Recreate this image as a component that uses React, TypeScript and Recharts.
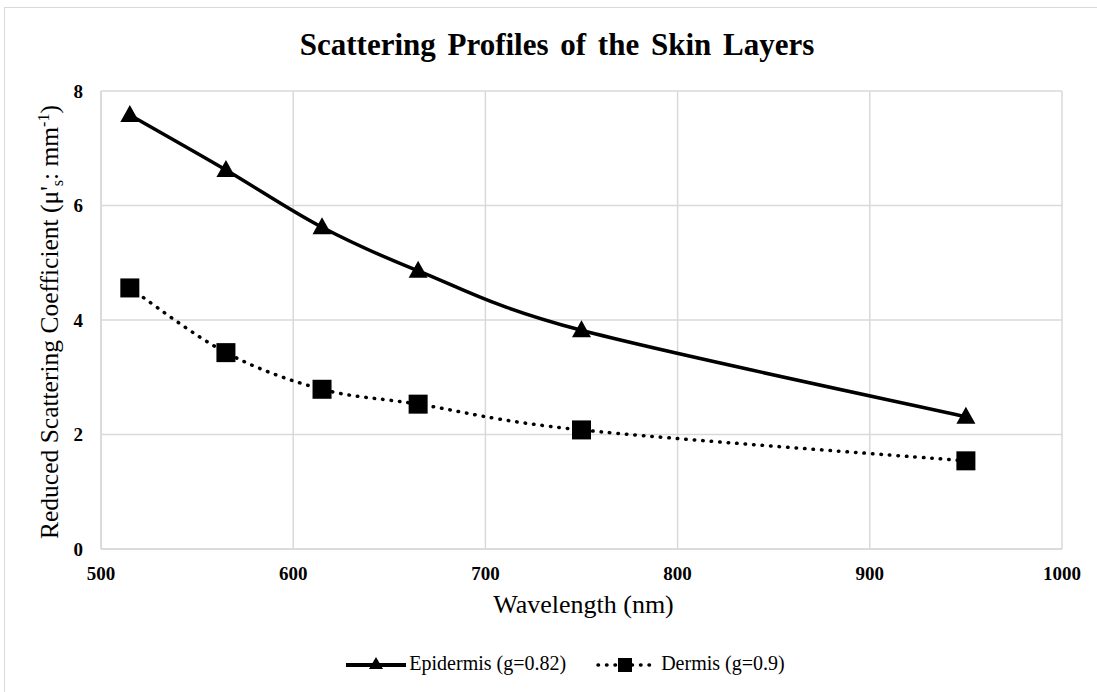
import { CartesianGrid, Label, Legend, Line, LineChart, XAxis, YAxis } from "recharts";

const wavelengths = [515, 565, 615, 665, 750, 950];
const epidermis = [7.58, 6.62, 5.62, 4.86, 3.82, 2.31];
const dermis = [4.56, 3.43, 2.79, 2.53, 2.08, 1.54];
const xTicks = [500, 600, 700, 800, 900, 1000];
const yTicks = [0, 2, 4, 6, 8];

const data = wavelengths.map((w, i) => ({
  wavelength: w,
  epidermis: epidermis[i],
  dermis: dermis[i],
}));

const FONT = '"Liberation Serif", "Times New Roman", serif';
const GRID = "#d9d9d9";

// Excel-style smoothed line: Catmull-Rom segments as cubic beziers
function excelSmooth(context: any) {
  let pts: [number, number][] = [];
  return {
    areaStart() {},
    areaEnd() {},
    lineStart() {
      pts = [];
    },
    point(x: number, y: number) {
      pts.push([+x, +y]);
    },
    lineEnd() {
      if (!pts.length) return;
      context.moveTo(pts[0][0], pts[0][1]);
      for (let i = 0; i < pts.length - 1; i++) {
        const p0 = pts[i - 1] || pts[i];
        const p1 = pts[i];
        const p2 = pts[i + 1];
        const p3 = pts[i + 2] || p2;
        context.bezierCurveTo(
          p1[0] + (p2[0] - p0[0]) / 6,
          p1[1] + (p2[1] - p0[1]) / 6,
          p2[0] - (p3[0] - p1[0]) / 6,
          p2[1] - (p3[1] - p1[1]) / 6,
          p2[0],
          p2[1]
        );
      }
    },
  };
}

function TriangleDot(props: any) {
  const { cx, cy, index } = props;
  if (cx == null || cy == null) return null;
  return (
    <polygon
      key={`t-${index}`}
      points={`${cx},${cy - 10} ${cx - 9.5},${cy + 7} ${cx + 9.5},${cy + 7}`}
      fill="#000"
    />
  );
}

function SquareDot(props: any) {
  const { cx, cy, index } = props;
  if (cx == null || cy == null) return null;
  return <rect key={`s-${index}`} x={cx - 9.5} y={cy - 9.5} width={19} height={19} fill="#000" />;
}

function LegendBox() {
  return (
    <div
      style={{
        display: "flex",
        justifyContent: "center",
        alignItems: "center",
        fontFamily: FONT,
        fontSize: 20,
        color: "#000",
        gap: 30,
        paddingLeft: 34,
      }}
    >
      <span style={{ display: "flex", alignItems: "center" }}>
        <svg width={60} height={16} style={{ marginRight: 3 }}>
          <line x1={0} y1={9} x2={60} y2={9} stroke="#000" strokeWidth={4} />
          <polygon points="30,1 23,13 37,13" fill="#000" />
        </svg>
        Epidermis (g=0.82)
      </span>
      <span style={{ display: "flex", alignItems: "center" }}>
        <svg width={58} height={16} style={{ marginRight: 7 }}>
          <line
            x1={2}
            y1={9}
            x2={57}
            y2={9}
            stroke="#000"
            strokeWidth={3.5}
            strokeLinecap="round"
            strokeDasharray="0.5 8"
          />
          <rect x={22} y={2} width={14} height={14} fill="#000" />
        </svg>
        Dermis (g=0.9)
      </span>
    </div>
  );
}

export default function App() {
  return (
    <div
      style={{
        position: "absolute",
        left: 0,
        top: 0,
        width: 1097,
        height: 692,
        background: "#fff",
        overflow: "hidden",
      }}
    >
      <div
        style={{
          position: "absolute",
          left: 4,
          top: 7,
          width: 1110,
          height: 700,
          border: `1px solid ${GRID}`,
        }}
      />
      <div
        style={{
          position: "absolute",
          left: 0,
          width: 1114,
          top: 27,
          textAlign: "center",
          fontFamily: FONT,
          fontWeight: "bold",
          fontSize: 31,
          wordSpacing: 4,
        }}
      >
        Scattering Profiles of the Skin Layers
      </div>
      <LineChart
        width={1097}
        height={692}
        data={data}
        margin={{ top: 91, right: 35, bottom: 113, left: 61 }}
        style={{ position: "absolute", left: 0, top: 0 }}
      >
        <CartesianGrid stroke={GRID} strokeWidth={1.5} />
        <XAxis
          type="number"
          dataKey="wavelength"
          domain={[500, 1000]}
          ticks={xTicks}
          height={30}
          tickLine={false}
          tickSize={0}
          tickMargin={18}
          axisLine={{ stroke: GRID, strokeWidth: 1.5 }}
          tick={{ fontSize: 19, fontWeight: "bold", fill: "#000", fontFamily: FONT }}
        >
          <Label
            content={({ viewBox }: any) => (
              <text
                x={viewBox.x + viewBox.width / 2 + 2}
                y={613}
                textAnchor="middle"
                fontFamily={FONT}
                fontSize={26}
                fill="#000"
              >
                Wavelength (nm)
              </text>
            )}
          />
        </XAxis>
        <YAxis
          type="number"
          domain={[0, 8]}
          ticks={yTicks}
          width={40}
          tickLine={false}
          tickSize={0}
          tickMargin={18}
          axisLine={{ stroke: GRID, strokeWidth: 1.5 }}
          tick={{ fontSize: 19, fontWeight: "bold", fill: "#000", fontFamily: FONT }}
        >
          <Label
            content={({ viewBox }: any) => {
              const cy = viewBox.y + viewBox.height / 2 + 2;
              const cx = 58;
              return (
                <text
                  x={cx}
                  y={cy}
                  transform={`rotate(-90, ${cx}, ${cy})`}
                  textAnchor="middle"
                  fontFamily={FONT}
                  fontSize={25.5}
                  fill="#000"
                >
                  Reduced Scattering Coefficient (μ&apos;
                  <tspan fontSize={16} dy={5}>
                    s
                  </tspan>
                  <tspan dy={-5}>: mm</tspan>
                  <tspan fontSize={16} dy={-9}>
                    -1
                  </tspan>
                  <tspan dy={9}>)</tspan>
                </text>
              );
            }}
          />
        </YAxis>
        <Legend
          layout="horizontal"
          verticalAlign="middle"
          align="center"
          wrapperStyle={{ top: 652, left: 0, width: 1097 }}
          content={() => <LegendBox />}
        />
        <Line
          type={excelSmooth as any}
          dataKey="epidermis"
          stroke="#000"
          strokeWidth={3.5}
          dot={TriangleDot}
          activeDot={false}
          isAnimationActive={false}
        />
        <Line
          type={excelSmooth as any}
          dataKey="dermis"
          stroke="#000"
          strokeWidth={3.5}
          strokeLinecap="round"
          strokeDasharray="0.5 8"
          dot={SquareDot}
          activeDot={false}
          isAnimationActive={false}
        />
      </LineChart>
    </div>
  );
}
